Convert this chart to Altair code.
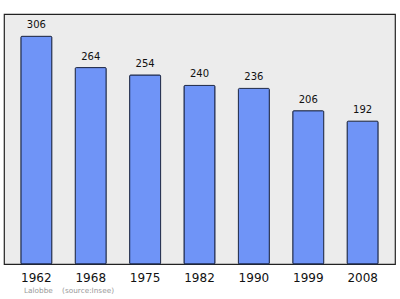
import altair as alt
import pandas as pd

years = ["1962", "1968", "1975", "1982", "1990", "1999", "2008"]
population = [306, 264, 254, 240, 236, 206, 192]

df = pd.DataFrame({"year": years, "pop": population})

x = alt.X("year:N", sort=years,
          scale=alt.Scale(paddingInner=0.43, paddingOuter=0.31),
          axis=alt.Axis(title=None, labelAngle=0, ticks=False, domain=False,
                        labelFontSize=12, labelFont="DejaVu Sans",
                        labelColor="#111111", labelPadding=8))
y = alt.Y("pop:Q", scale=alt.Scale(domain=[0, 336], nice=False),
          axis=None)

bars = alt.Chart(df).mark_bar(
    color="#6f94f7", stroke="#1f2a4a", strokeWidth=1, cornerRadius=1
).encode(x=x, y=y)

labels = alt.Chart(df).mark_text(
    dy=-11, fontSize=10, font="DejaVu Sans", color="#111111"
).encode(x=x, y=y, text="pop:Q")

footer = "Lalobbe\u00a0\u00a0\u00a0\u00a0(source:Insee)"

chart = (bars + labels).properties(
    width=391, height=250,
    background="white",
    padding={"left": 4, "top": 14, "right": 5, "bottom": 35},
    autosize=alt.AutoSizeParams(type="none"),
    title=alt.TitleParams(footer, orient="bottom",
                          anchor="start", fontSize=7.3, fontWeight="normal",
                          font="DejaVu Sans", color="#999999", offset=4, dx=20),
).configure_view(
    fill="#ececec", stroke="#222222", strokeWidth=1.2
)

chart.save("out.html", embed_options={"renderer": "svg", "actions": False})
